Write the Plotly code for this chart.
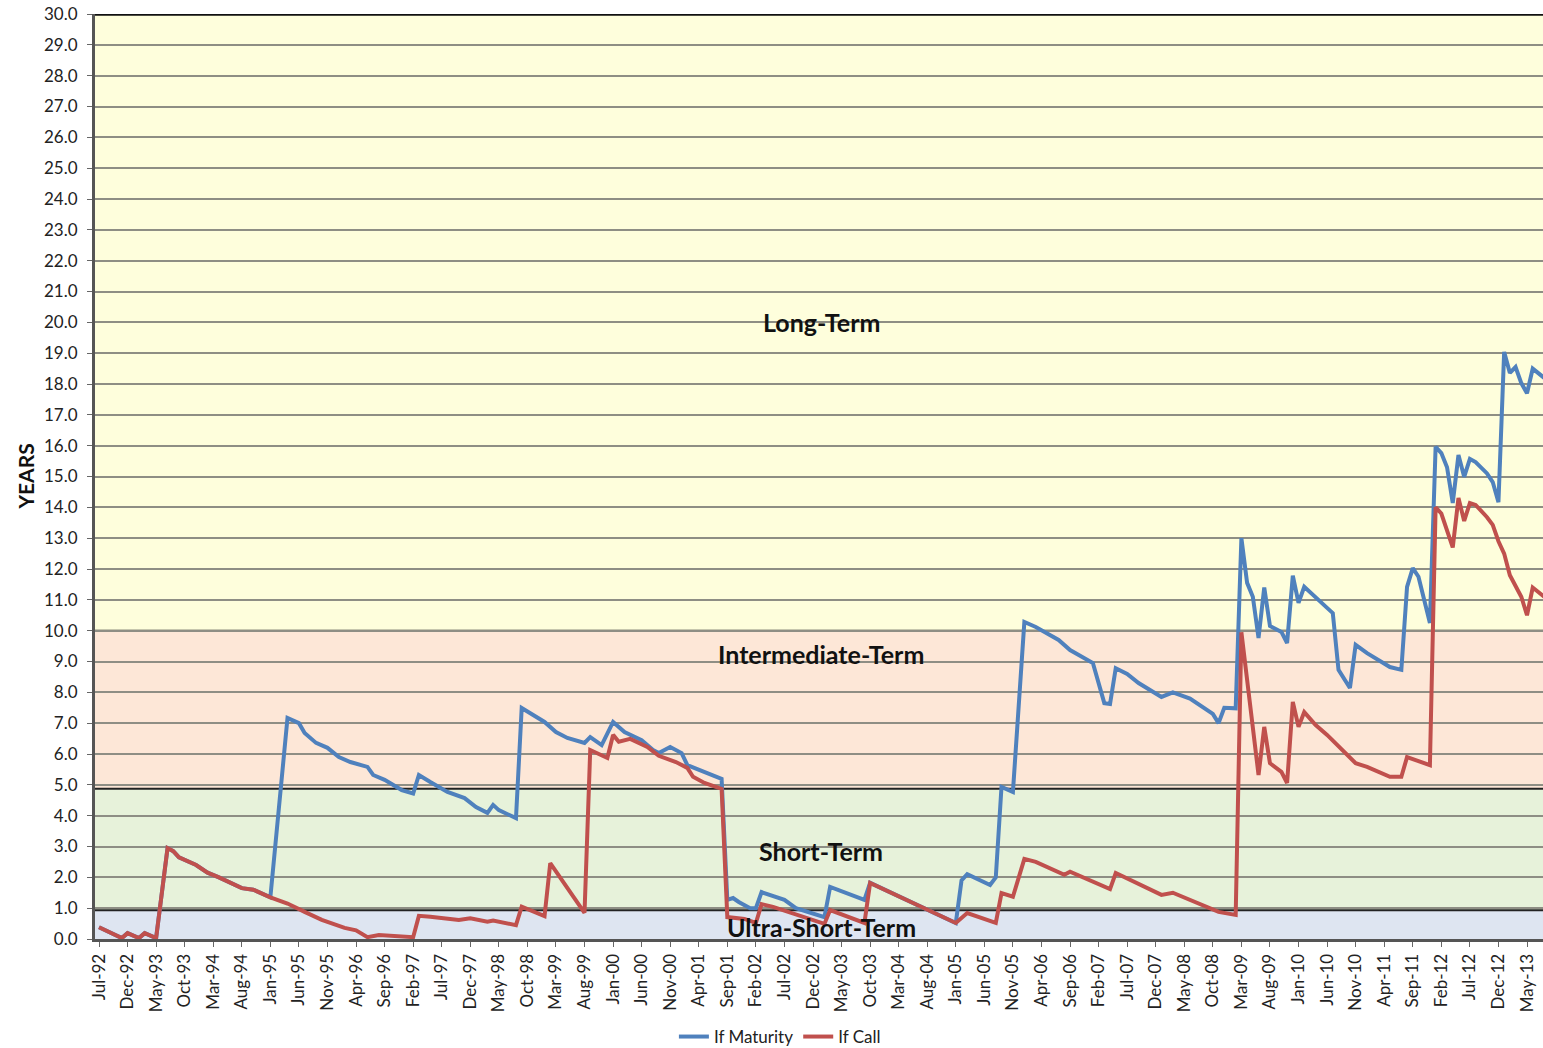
import plotly.graph_objects as go

# ---------------- data ----------------
tick_labels = ["Jul-92", "Dec-92", "May-93", "Oct-93", "Mar-94", "Aug-94", "Jan-95", "Jun-95", "Nov-95",
               "Apr-96", "Sep-96", "Feb-97", "Jul-97", "Dec-97", "May-98", "Oct-98", "Mar-99", "Aug-99",
               "Jan-00", "Jun-00", "Nov-00", "Apr-01", "Sep-01", "Feb-02", "Jul-02", "Dec-02", "May-03",
               "Oct-03", "Mar-04", "Aug-04", "Jan-05", "Jun-05", "Nov-05", "Apr-06", "Sep-06", "Feb-07",
               "Jul-07", "Dec-07", "May-08", "Oct-08", "Mar-09", "Aug-09", "Jan-10", "Jun-10", "Nov-10",
               "Apr-11", "Sep-11", "Feb-12", "Jul-12", "Dec-12", "May-13"]

maturity_dates = [
    "1992-07", "1992-11", "1992-12", "1993-02", "1993-03", "1993-05", "1993-07", "1993-08", "1993-09",
    "1993-10", "1993-12", "1994-02", "1994-04", "1994-08", "1994-10", "1995-01",
    "1995-04", "1995-06", "1995-07", "1995-09", "1995-11", "1996-01", "1996-03", "1996-06", "1996-07",
    "1996-09", "1996-12", "1997-02", "1997-03", "1997-05", "1997-08", "1997-11", "1998-01", "1998-03",
    "1998-04", "1998-05", "1998-08", "1998-09", "1998-11", "1999-01", "1999-03", "1999-05", "1999-08",
    "1999-09", "1999-11", "2000-01", "2000-03", "2000-06", "2000-08", "2000-09", "2000-11", "2001-01",
    "2001-02", "2001-05", "2001-08", "2001-09", "2001-10", "2001-11", "2002-01", "2002-02", "2002-03",
    "2002-07", "2002-09", "2003-02", "2003-03", "2003-09", "2003-10", "2005-01", "2005-02", "2005-03",
    "2005-07", "2005-08", "2005-09", "2005-11", "2006-01", "2006-03", "2006-07", "2006-09", "2007-01",
    "2007-03", "2007-04", "2007-05", "2007-07", "2007-09", "2008-01", "2008-03", "2008-06", "2008-10",
    "2008-11", "2008-12", "2009-02", "2009-03", "2009-04", "2009-05", "2009-06", "2009-07", "2009-08",
    "2009-10", "2009-11", "2009-12", "2010-01", "2010-02", "2010-04", "2010-06", "2010-07", "2010-08",
    "2010-10", "2010-11", "2011-01", "2011-05", "2011-07", "2011-08", "2011-09", "2011-10", "2011-12",
    "2012-01", "2012-02", "2012-03", "2012-04", "2012-05", "2012-06", "2012-07", "2012-08", "2012-10",
    "2012-11", "2012-12", "2013-01", "2013-02", "2013-03", "2013-04", "2013-05", "2013-06", "2013-08"]
maturity_years = [
    0.38, 0.03, 0.19, 0.03, 0.19, 0.03, 2.95, 2.85, 2.65,
    2.56, 2.40, 2.15, 2.00, 1.65, 1.60, 1.35,
    7.17, 7.00, 6.68, 6.36, 6.20, 5.90, 5.74, 5.58, 5.32,
    5.16, 4.83, 4.72, 5.32, 5.09, 4.77, 4.57, 4.28, 4.09,
    4.35, 4.18, 3.92, 7.49, 7.27, 7.04, 6.71, 6.52, 6.36,
    6.55, 6.29, 7.04, 6.71, 6.45, 6.13, 6.03, 6.23, 6.03,
    5.64, 5.42, 5.19, 1.27, 1.33, 1.20, 1.00, 1.00, 1.52,
    1.27, 1.00, 0.71, 1.69, 1.27, 1.82, 0.52, 1.90, 2.10,
    1.75, 2.00, 4.93, 4.77, 10.28, 10.12, 9.70, 9.37, 8.95,
    7.65, 7.62, 8.78, 8.60, 8.30, 7.85, 8.00, 7.80, 7.30,
    7.00, 7.50, 7.48, 13.00, 11.55, 11.10, 9.76, 11.40, 10.15,
    9.96, 9.60, 11.78, 10.90, 11.42, 11.06, 10.74, 10.57, 8.73,
    8.14, 9.54, 9.27, 8.82, 8.73, 11.42, 12.03, 11.75, 10.25,
    15.96, 15.76, 15.30, 14.14, 15.70, 14.99, 15.57, 15.47, 15.10,
    14.82, 14.17, 19.04, 18.36, 18.55, 18.03, 17.70, 18.50, 18.20]

call_dates = [
    "1992-07", "1992-11", "1992-12", "1993-02", "1993-03", "1993-05", "1993-07", "1993-08", "1993-09",
    "1993-10", "1993-12", "1994-02", "1994-04", "1994-08", "1994-10", "1995-01",
    "1995-04", "1995-07", "1995-10", "1996-02", "1996-04", "1996-06", "1996-08", "1997-02", "1997-03",
    "1997-05", "1997-10", "1997-12", "1998-03", "1998-04", "1998-08", "1998-09", "1999-01", "1999-02",
    "1999-08", "1999-09", "1999-12", "2000-01", "2000-02", "2000-04", "2000-07", "2000-09", "2000-10",
    "2000-12", "2001-02", "2001-03", "2001-05", "2001-08", "2001-09", "2001-12", "2002-02", "2002-03",
    "2002-05", "2003-02", "2003-03", "2003-09", "2003-10", "2005-01", "2005-03", "2005-08", "2005-09",
    "2005-11", "2006-01", "2006-03", "2006-08", "2006-09", "2007-04", "2007-05", "2008-01", "2008-03",
    "2008-11", "2009-02", "2009-03", "2009-06", "2009-07", "2009-08", "2009-10", "2009-11", "2009-12",
    "2010-01", "2010-02", "2010-04", "2010-06", "2010-11", "2011-01", "2011-03", "2011-05", "2011-07",
    "2011-08", "2011-12", "2012-01", "2012-02", "2012-04", "2012-05", "2012-06", "2012-07", "2012-08",
    "2012-10", "2012-11", "2012-12", "2013-01", "2013-02", "2013-04", "2013-05", "2013-06", "2013-08"]
call_years = [
    0.38, 0.03, 0.19, 0.03, 0.19, 0.03, 2.95, 2.85, 2.65,
    2.56, 2.40, 2.15, 2.00, 1.65, 1.60, 1.35,
    1.15, 0.88, 0.62, 0.36, 0.28, 0.06, 0.13, 0.06, 0.75,
    0.72, 0.62, 0.67, 0.56, 0.60, 0.45, 1.05, 0.74, 2.46,
    0.85, 6.13, 5.87, 6.62, 6.40, 6.49, 6.23, 5.94, 5.87,
    5.74, 5.55, 5.26, 5.06, 4.87, 0.71, 0.65, 0.52, 1.13,
    1.04, 0.49, 0.94, 0.52, 1.82, 0.52, 0.84, 0.52, 1.49,
    1.37, 2.60, 2.50, 2.08, 2.18, 1.62, 2.14, 1.43, 1.50,
    0.88, 0.78, 9.95, 5.32, 6.88, 5.70, 5.42, 5.06, 7.69,
    6.88, 7.36, 6.94, 6.62, 5.70, 5.58, 5.42, 5.26, 5.26,
    5.90, 5.64, 14.00, 13.80, 12.70, 14.30, 13.56, 14.14, 14.08,
    13.68, 13.43, 12.90, 12.50, 11.80, 11.10, 10.50, 11.40, 11.10]

band_names = ["Long-Term", "Intermediate-Term", "Short-Term", "Ultra-Short-Term"]
band_bounds = [(10.0, 30.0), (4.87, 10.0), (0.93, 4.87), (0.0, 0.93)]
band_label_y = [20.0, 9.24, 2.85, 0.39]


def month_index(s):
    y, m = s.split("-")
    return (int(y) - 1992) * 12 + (int(m) - 7)


FONT = "Lato, 'Open Sans', sans-serif"
band_colors = ["#fefedc", "#fde7d7", "#e7f2da", "#dee5f1"]

fig = go.Figure()
fig.add_trace(go.Scatter(
    x=[month_index(d) for d in maturity_dates], y=maturity_years, name="If Maturity",
    mode="lines", line=dict(color="#4f81bd", width=4)))
fig.add_trace(go.Scatter(
    x=[month_index(d) for d in call_dates], y=call_years, name="If Call",
    mode="lines", line=dict(color="#c0504d", width=4)))

shapes = []
for (lo, hi), col in zip(band_bounds, band_colors):
    shapes.append(dict(type="rect", xref="paper", yref="y", x0=0, x1=1, y0=lo, y1=hi,
                       fillcolor=col, line=dict(width=0), layer="below"))
for lo, hi in band_bounds[:3]:
    shapes.append(dict(type="line", xref="paper", yref="y", x0=0, x1=1, y0=lo, y1=lo,
                       line=dict(color="#222222", width=2), layer="below"))
shapes.append(dict(type="line", xref="paper", yref="y", x0=0, x1=1, y0=30, y1=30,
                   line=dict(color="#111111", width=3.5), layer="above"))

annotations = []
for name, yv in zip(band_names, band_label_y):
    annotations.append(dict(x=126.4, y=yv, xref="x", yref="y", text="<b>%s</b>" % name,
                            showarrow=False, font=dict(family=FONT, size=25, color="#111111")))
annotations.append(dict(x=-0.0483, y=0.5, xref="paper", yref="paper", text="<b>YEARS</b>",
                        xanchor="center", yanchor="middle",
                        textangle=-90, showarrow=False,
                        font=dict(family=FONT, size=21, color="#111111")))

fig.update_layout(
    width=1543, height=1048,
    margin=dict(l=95, r=0, t=14, b=109),
    paper_bgcolor="white", plot_bgcolor="white",
    shapes=shapes, annotations=annotations,
    showlegend=True,
    legend=dict(orientation="h", x=0.473, xanchor="center",
                yref="container", y=0.0105, yanchor="middle",
                font=dict(family=FONT, size=17, color="#222222"), bgcolor="rgba(0,0,0,0)"),
    xaxis=dict(range=[-0.7, 252.8], tickmode="array", automargin=False,
               tickvals=[5 * i for i in range(len(tick_labels))], ticktext=tick_labels,
               tickangle=-90, ticks="outside", ticklen=5, tickcolor="#666666",
               showgrid=False, zeroline=False, showline=True, linecolor="#555555", linewidth=3,
               tickfont=dict(family=FONT, size=17, color="#222222")),
    yaxis=dict(range=[0, 30], tickmode="linear", tick0=0, dtick=1, tickformat=".1f",
               automargin=False, ticklabelstandoff=6,
               ticks="outside", ticklen=5, tickcolor="#666666",
               showgrid=True, gridcolor="#8e8e84", gridwidth=1.5, zeroline=False,
               showline=True, linecolor="#555555", linewidth=3,
               tickfont=dict(family=FONT, size=17, color="#222222")),
)

fig.write_html("out.html", config={"displayModeBar": False},
               post_script="document.body.style.margin='0';document.body.style.overflow='hidden';")
